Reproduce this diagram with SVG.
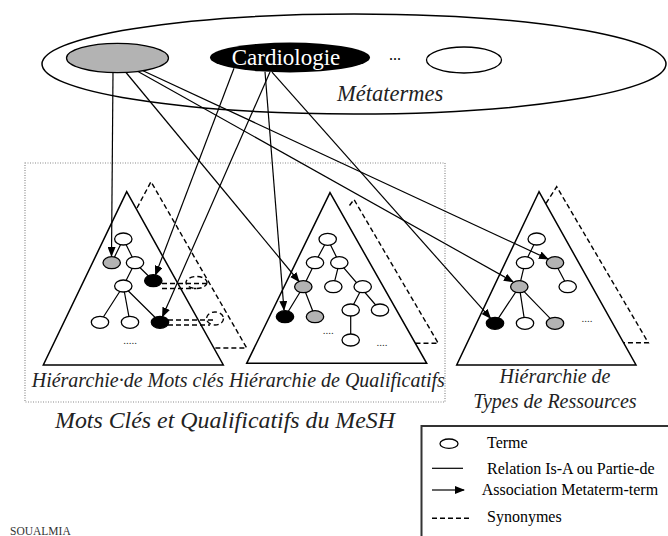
<svg xmlns="http://www.w3.org/2000/svg" width="668" height="536" viewBox="0 0 668 536">
  <defs>
    <marker id="arrow" markerUnits="userSpaceOnUse" markerWidth="10" markerHeight="8" refX="9" refY="4" orient="auto">
      <path d="M0,0 L10,4 L0,8 Z" fill="#000"/>
    </marker>
  </defs>
  <style>
    text { font-family: 'Liberation Serif', 'Times New Roman', 'DejaVu Serif', serif; }
    .ital { font-style: italic; fill: #222; }
    .tri { fill: none; stroke: #000; stroke-width: 1.5; }
    .syn { fill: none; stroke: #000; stroke-width: 1.4; stroke-dasharray: 5 3; }
    .edge { stroke: #000; stroke-width: 1.2; fill: none; }
    .link { stroke: #000; stroke-width: 1.2; fill: none; marker-end: url(#arrow); }
    .w { fill: #fff; stroke: #000; stroke-width: 1.3; }
    .g { fill: #b3b3b3; stroke: #000; stroke-width: 1.3; }
    .b { fill: #000; stroke: #000; stroke-width: 1.3; }
    .dots { font-size: 11px; fill: #333; text-anchor: middle; }
  </style>

  <rect width="668" height="536" fill="#fff"/>

  <!-- metaterm space -->
  <g id="metatermes">
    <ellipse cx="354" cy="64" rx="312" ry="50" fill="none" stroke="#000" stroke-width="1.5"/>
    <text class="ital" x="337" y="101" font-size="22.5" font-family="Liberation Serif, serif">Métatermes</text>
  </g>
  <g id="meta-gris">
    <ellipse cx="117.5" cy="58" rx="51" ry="14.7" class="g"/>
  </g>
  <g id="meta-cardiologie">
    <ellipse cx="290" cy="57.5" rx="80" ry="15" fill="#000"/>
    <text x="286" y="65" font-size="23" fill="#fff" text-anchor="middle" font-family="Liberation Serif, serif">Cardiologie</text>
  </g>
  <g id="meta-etc">
    <text x="395" y="60" font-size="16" text-anchor="middle" font-family="Liberation Serif, serif">...</text>
  </g>
  <g id="meta-blanc">
    <ellipse cx="464" cy="60" rx="37.5" ry="13" class="w"/>
  </g>

  <!-- MeSH frame -->
  <g id="mesh">
    <rect x="25" y="163" width="420" height="239" fill="none" stroke="#8a8a8a" stroke-width="1.2" stroke-dasharray="1 1.5"/>
    <text class="ital" x="55" y="428" font-size="23" textLength="340" lengthAdjust="spacingAndGlyphs" font-family="Liberation Serif, serif">Mots Clés et Qualificatifs du MeSH</text>
  </g>

  <!-- keyword hierarchy -->
  <g id="mots-cles">
    <polyline class="syn" points="137,208 151,181.7 246.7,348 214,348"/>
    <polygon class="tri" points="126.7,191.7 43.3,365 223.3,365"/>
    <line class="syn" x1="162" y1="283.5" x2="206" y2="283.5"/>
    <line class="syn" x1="162" y1="288.5" x2="196" y2="288.5"/>
    <ellipse class="syn" cx="196.5" cy="282.5" rx="10.5" ry="6" stroke-dasharray="4 2.5"/>
    <line class="syn" x1="168" y1="320" x2="215" y2="320"/>
    <line class="syn" x1="168" y1="325" x2="210" y2="325"/>
    <ellipse class="syn" cx="215" cy="318.5" rx="8.5" ry="6.5" stroke-dasharray="4 2.5"/>
    <path class="edge" d="M123.3,239 L111.7,262.7 M123.3,239 L135,262.7 M135,262.7 L153.3,280.7 M135,262.7 L123.3,286 M123.3,286 L100,322.3 M123.3,286 L130,322.3 M123.3,286 L160,322.3"/>
    <ellipse class="w" cx="123.3" cy="239" rx="8.7" ry="6"/>
    <ellipse class="g" cx="111.7" cy="262.7" rx="8.7" ry="6"/>
    <ellipse class="w" cx="135" cy="262.7" rx="8.7" ry="6"/>
    <ellipse class="b" cx="153.3" cy="280.7" rx="8.7" ry="6"/>
    <ellipse class="w" cx="123.3" cy="286" rx="8.7" ry="6"/>
    <ellipse class="w" cx="100" cy="322.3" rx="8.7" ry="6"/>
    <ellipse class="w" cx="130" cy="322.3" rx="8.7" ry="6"/>
    <ellipse class="b" cx="160" cy="322.3" rx="8.7" ry="6"/>
    <text class="dots" x="130" y="344">.....</text>
    <text class="ital" x="31.7" y="387" font-size="20" font-family="Liberation Serif, serif">Hiérarchie·de Mots clés</text>
  </g>

  <!-- qualifier hierarchy -->
  <g id="qualificatifs">
    <polyline class="syn" points="349.5,205.5 354,199.5 438.3,343.3 415,343.3"/>
    <polygon class="tri" points="330,192.7 246.7,363.3 426.7,363.3"/>
    <path class="edge" d="M327.7,239.3 L315,262.7 M327.7,239.3 L339.3,262.7 M315,262.7 L303.3,286.7 M339.3,262.7 L333.3,286.7 M339.3,262.7 L380,310 M303.3,286.7 L285,316.7 M303.3,286.7 L315,316.7 M362.7,286.7 L350.7,310 M350.7,310 L350.7,340"/>
    <ellipse class="w" cx="327.7" cy="239.3" rx="8.7" ry="6"/>
    <ellipse class="w" cx="315" cy="262.7" rx="8.7" ry="6"/>
    <ellipse class="w" cx="339.3" cy="262.7" rx="8.7" ry="6"/>
    <ellipse class="g" cx="303.3" cy="286.7" rx="8.7" ry="6"/>
    <ellipse class="w" cx="333.3" cy="286.7" rx="8.7" ry="6"/>
    <ellipse class="w" cx="362.7" cy="286.7" rx="8.7" ry="6"/>
    <ellipse class="b" cx="285" cy="316.7" rx="8.7" ry="6"/>
    <ellipse class="g" cx="315" cy="316.7" rx="8.7" ry="6"/>
    <ellipse class="w" cx="350.7" cy="310" rx="8.7" ry="6"/>
    <ellipse class="w" cx="380" cy="310" rx="8.7" ry="6"/>
    <ellipse class="w" cx="350.7" cy="340" rx="8.7" ry="6"/>
    <text class="dots" x="328.3" y="334">....</text>
    <text class="dots" x="382" y="346">....</text>
    <text class="ital" x="229" y="387" font-size="20" font-family="Liberation Serif, serif">Hiérarchie de Qualificatifs</text>
  </g>

  <!-- resource type hierarchy -->
  <g id="types-ressources">
    <polyline class="syn" points="546,203.3 556.7,186.7 648.3,342.7 624,342.7"/>
    <polygon class="tri" points="539,191.7 456.7,365 636,365"/>
    <path class="edge" d="M536.7,239 L525,262.7 M525,262.7 L519.3,286.7 M555,262.7 L567.7,286.7 M519.3,286.7 L495,323.3 M519.3,286.7 L525,323.3 M519.3,286.7 L555,323.3"/>
    <ellipse class="w" cx="536.7" cy="239" rx="8.7" ry="6"/>
    <ellipse class="w" cx="525" cy="262.7" rx="8.7" ry="6"/>
    <ellipse class="g" cx="555" cy="262.7" rx="8.7" ry="6"/>
    <ellipse class="g" cx="519.3" cy="286.7" rx="8.7" ry="6"/>
    <ellipse class="w" cx="567.7" cy="286.7" rx="8.7" ry="6"/>
    <ellipse class="b" cx="495" cy="323.3" rx="8.7" ry="6"/>
    <ellipse class="w" cx="525" cy="323.3" rx="8.7" ry="6"/>
    <ellipse class="g" cx="555" cy="323.3" rx="8.7" ry="6"/>
    <text class="dots" x="587" y="322">....</text>
    <text class="ital" x="555" y="383" font-size="20" text-anchor="middle" font-family="Liberation Serif, serif">Hiérarchie de</text>
    <text class="ital" x="555" y="408" font-size="20" text-anchor="middle" font-family="Liberation Serif, serif">Types de Ressources</text>
  </g>

  <!-- metaterm-to-term associations -->
  <g id="connectors">
    <line class="link" x1="113" y1="72.6" x2="111.5" y2="256"/>
    <line class="link" x1="126" y1="72.5" x2="299" y2="281.5"/>
    <line class="link" x1="138" y1="71.5" x2="513" y2="281.7"/>
    <line class="link" x1="143" y1="70.7" x2="548" y2="259"/>
    <line class="link" x1="234" y1="68.2" x2="155.5" y2="274.9"/>
    <line class="link" x1="270" y1="72" x2="162.5" y2="316.6"/>
    <line class="link" x1="265" y1="71.7" x2="284" y2="310"/>
    <line class="link" x1="272" y1="72.2" x2="490.5" y2="318.2"/>
  </g>

  <!-- legend -->
  <g id="legende">
    <rect x="421.5" y="426" width="260" height="130" fill="none" stroke="#333" stroke-width="2"/>
    <ellipse class="w" cx="449" cy="443.7" rx="9" ry="4.7"/>
    <text x="487" y="448" font-size="16" font-family="Liberation Serif, serif">Terme</text>
    <line class="edge" x1="432" y1="468.3" x2="463" y2="468.3"/>
    <text x="487" y="473.5" font-size="16" font-family="Liberation Serif, serif">Relation Is-A ou Partie-de</text>
    <line class="link" x1="432" y1="490" x2="464" y2="490"/>
    <text x="481.7" y="494.5" font-size="16" font-family="Liberation Serif, serif">Association Metaterm-term</text>
    <line class="syn" x1="432" y1="518.3" x2="470" y2="518.3" stroke-dasharray="5 4"/>
    <text x="487" y="521.5" font-size="16" font-family="Liberation Serif, serif">Synonymes</text>
  </g>

  <g id="signature">
    <text x="10" y="535" font-size="11.5" fill="#333" font-family="Liberation Serif, serif">SOUALMIA</text>
  </g>
</svg>
